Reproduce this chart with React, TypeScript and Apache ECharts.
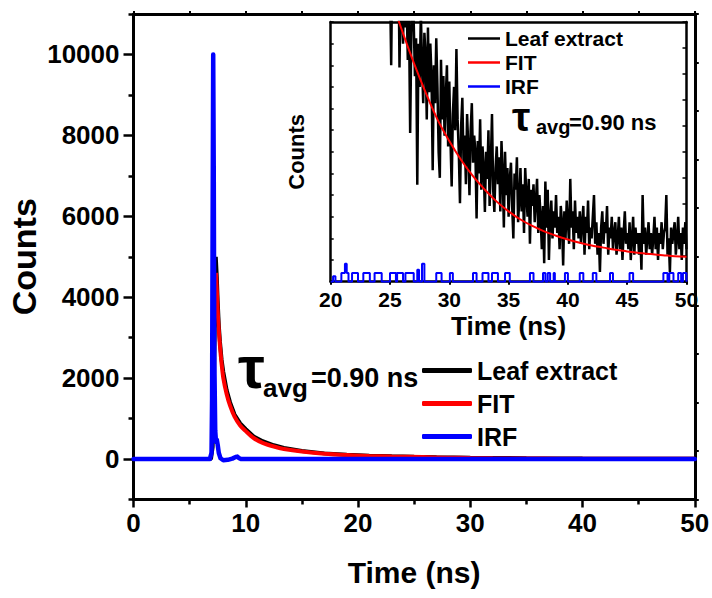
import React, { useEffect, useRef } from 'react';
import * as echarts from 'echarts';

// ---------- Main panel data ----------
const leafMainTime = [0, 6.9, 7.05, 7.2, 7.33, 7.42, 7.5, 7.6, 7.7, 7.85, 8.0, 8.3, 8.6, 9.0, 9.5, 10, 10.7, 11.5, 12.5, 13.4, 15, 17, 19, 21, 23, 25, 27, 30, 35, 40, 45, 50];
const leafMainCounts = [0, 0, 300, 2500, 5000, 4500, 3900, 3300, 2900, 2450, 2150, 1700, 1400, 1100, 880, 740, 560, 440, 340, 275, 200, 140, 105, 82, 66, 54, 44, 32, 19, 12, 9, 7];

const fitMainTime = [7.35, 7.45, 7.55, 7.7, 7.85, 8.0, 8.3, 8.6, 9.0, 9.5, 10, 10.7, 11.5, 12.5, 13.4, 15, 17, 19, 21, 23, 25.8, 28, 30, 32, 35, 38, 40, 45, 50];
const fitMainCounts = [4600, 4000, 3400, 2800, 2350, 2000, 1600, 1320, 1050, 830, 690, 520, 400, 310, 250, 185, 130, 98, 78, 64, 48, 34.5, 25.5, 19, 12.6, 8.9, 7.5, 5.6, 4.6];

const irfMainTime = [0, 6.8, 6.95, 7.0, 7.05, 7.1, 7.15, 7.2, 7.28, 7.35, 7.42, 7.5, 7.6, 7.75, 8.0, 8.4, 8.8, 9.1, 9.25, 9.4, 9.6, 50];
const irfMainCounts = [0, 0, 150, 1500, 6000, 10000, 7000, 2500, 700, 420, 480, 350, 150, 20, -30, -20, 10, 50, 60, 20, 0, 0];

const mainYTicks = [0, 2000, 4000, 6000, 8000, 10000];
const mainYMinorTicks = [-1000, 1000, 3000, 5000, 7000, 9000, 11000];

// ---------- Inset data (20 - 50 ns) ----------
const leafInsetStart = 24.0;
const leafInsetStep = 0.1;
const leafInsetCounts = [
  62, 57, 70, 54, 66, 59, 73, 56, 64, 58,
  55, 40, 61, 52, 49.5, 58, 50, 63, 39.6, 54,
  50, 44, 58, 47, 52, 41, 49, 27.5, 46, 53,
  48, 38, 45, 17.9, 44, 36, 50, 40, 33, 46,
  42, 30, 47, 35, 44, 38, 20.6, 40, 33, 45,
  36, 24, 19.2, 41, 30, 38, 27, 34, 40, 25,
  37, 26, 17.6, 31, 36, 28, 43, 30, 24, 14.5,
  29, 34, 22, 27, 18, 31, 25, 16, 28, 33,
  22, 27, 24, 11.7, 26, 20, 30, 17, 25, 21,
  12.9, 24, 19, 28, 14, 22, 31, 17, 12.9, 21,
  25, 18, 23, 13, 26, 20, 10, 24, 16, 21,
  12, 19, 22, 14, 8, 20, 17, 23, 11, 15,
  21, 13, 18, 9, 21, 16, 12, 19, 7, 17,
  14, 18, 11, 15, 19, 9, 16, 12, 6, 14,
  3.4, 18.5, 10, 17, 4, 12, 15, 8, 13, 10,
  16, 9, 12, 6, 14, 11, 3, 13, 8, 15,
  11, 7, 19, 10, 13, 6, 15, 9, 12, 8,
  13, 7, 11, 14, 5, 12, 9, 15, 6, 10,
  8, 12, 16, 7, 11, 5, 9, 1.8, 10, 13,
  7, 11, 9, 14, 5, 10, 8, 12, 6, 9,
  11, 5, 8, 12, 6, 10, 4, 9, 13, 7,
  9, 6, 11, 4, 8, 12, 5, 10, 7, 9,
  5, 9, 2.2, 16, 7, 10, 5, 8, 11, 6,
  9, 5, 8, 12, 6, 10, 4, 9, 7, 11,
  6, 9, 10, 16, 5, 8, 1.8, 10, 7, 9,
  11, 5, 8, 12, 6, 9, 4, 10, 7, 11,
  6,
];

const fitInsetTime = [24, 25, 26, 27, 28, 29, 30, 31, 32, 33, 34, 35, 36, 37, 38, 39, 40, 41, 42, 43, 44, 45, 46, 47, 48, 49, 50];
const fitInsetCounts = [60, 53, 46.5, 40.5, 35, 30, 26, 22.5, 19.5, 17, 14.8, 13, 11.5, 10.3, 9.3, 8.5, 7.8, 7.2, 6.7, 6.3, 5.9, 5.6, 5.3, 5.1, 4.9, 4.7, 4.6];

// IRF pulses in the inset (step trace): time where the level starts, and the level
const irfInsetTime = [20, 20.2, 20.4, 20.9, 21.2, 21.35, 21.5, 21.8, 22.3, 22.75, 23.3, 23.7, 24.3, 25.0, 25.5, 25.6, 26.1, 26.3, 27.0, 27.3, 27.45, 27.7, 27.9, 28.9, 29.35, 30.05, 30.3, 32.0, 32.3, 32.8, 33.3, 33.6, 34.1, 34.7, 35.1, 36.8, 37.1, 37.9, 38.1, 38.3, 38.5, 38.8, 38.9, 39.75, 40.0, 41.0, 41.3, 42.1, 42.4, 43.55, 43.8, 45.2, 45.5, 48.05, 48.4, 48.55, 48.9, 49.3, 49.55, 49.7, 50];
const irfInsetCounts = [0, 1.0, 0, 1.6, 3.3, 1.6, 0, 1.6, 0, 1.6, 0, 1.6, 0, 1.6, 0, 1.6, 0, 1.6, 0, 2.2, 0, 3.3, 0, 1.6, 0, 1.6, 0, 1.6, 0, 1.6, 0, 1.6, 0, 1.6, 0, 1.6, 0, 1.6, 0, 1.6, 0, 1.6, 0, 1.6, 0, 1.6, 0, 1.6, 0, 1.6, 0, 1.6, 0, 1.6, 0, 1.6, 0, 1.6, 0, 1.6, 0];

const seriesNames = ['Leaf extract', 'FIT', 'IRF'];
const seriesColors = ['#000000', '#ff0000', '#0000ff'];
const tauLabel = { symbol: 'τ', sub: 'avg', rest: '=0.90 ns' };

const SANS = "'Liberation Sans', Arial, Helvetica, sans-serif";

const zip = (xs: number[], ys: number[]) => xs.map((x, i) => [x, ys[i]]);

function buildOption() {
  const leafInsetData = leafInsetCounts.map((v, i) => [
    Math.round((leafInsetStart + i * leafInsetStep) * 100) / 100,
    v,
  ]);
  const black = '#000';
  const line = (w: number) => ({ show: true, onZero: false, lineStyle: { color: black, width: w } });
  const tick = (len: number, inside: boolean, w: number, customValues?: number[]) => ({
    show: true,
    inside,
    length: len,
    lineStyle: { color: black, width: w },
    ...(customValues ? { customValues } : {}),
  });
  const noSplit = { show: false };
  const plain = (v: number) => String(v);

  return {
    animation: false,
    backgroundColor: '#ffffff',
    grid: [
      { left: 133.5, top: 14, right: 17.2, bottom: 98.5, containLabel: false, outerBoundsMode: 'none' },
      { left: 330.7, top: 22, right: 25.5, bottom: 316.3, containLabel: false, outerBoundsMode: 'none' },
    ],
    xAxis: [
      {
        type: 'value', gridIndex: 0, position: 'bottom', min: 0, max: 50, interval: 10,
        axisLine: line(3), axisTick: tick(8, false, 2.5),
        minorTick: { show: true, splitNumber: 2, length: 5, lineStyle: { color: black, width: 2.5 } },
        axisLabel: { margin: 10, fontFamily: SANS, fontWeight: 'bold', fontSize: 26, color: black, formatter: plain },
        splitLine: noSplit, minorSplitLine: noSplit,
        name: 'Time (ns)', nameLocation: 'middle', nameGap: 58, nameMoveOverlap: false,
        nameTextStyle: { fontFamily: SANS, fontWeight: 'bold', fontSize: 30, color: black },
      },
      {
        type: 'value', gridIndex: 0, position: 'top', min: 0, max: 50, interval: 5,
        axisLine: line(3), axisTick: tick(3, false, 2), axisLabel: { show: false }, splitLine: noSplit,
      },
      {
        type: 'value', gridIndex: 1, position: 'bottom', min: 20, max: 50, interval: 5,
        axisLine: line(2.5), axisTick: tick(3, false, 2),
        axisLabel: { margin: 7, fontFamily: SANS, fontWeight: 'bold', fontSize: 21, color: black, formatter: plain },
        splitLine: noSplit,
        name: 'Time (ns)', nameLocation: 'middle', nameGap: 31, nameMoveOverlap: false,
        nameTextStyle: { fontFamily: SANS, fontWeight: 'bold', fontSize: 26, color: black },
      },
      {
        type: 'value', gridIndex: 1, position: 'top', min: 20, max: 50, interval: 5,
        axisLine: line(2.5), axisTick: { show: false }, axisLabel: { show: false }, splitLine: noSplit,
      },
    ],
    yAxis: [
      {
        type: 'value', gridIndex: 0, position: 'left', min: -1000, max: 11000,
        axisLine: line(3), axisTick: tick(10, false, 2.5, mainYTicks),
        axisLabel: { customValues: mainYTicks, margin: 14, fontFamily: SANS, fontWeight: 'bold', fontSize: 26, color: black, formatter: plain },
        splitLine: noSplit,
        name: 'Counts', nameLocation: 'middle', nameGap: 93, nameMoveOverlap: false,
        nameTextStyle: { fontFamily: SANS, fontWeight: 'bold', fontSize: 34, color: black },
      },
      {
        type: 'value', gridIndex: 0, position: 'left', min: -1000, max: 11000,
        axisLine: { show: false }, axisTick: tick(5, false, 2.5, mainYMinorTicks),
        axisLabel: { show: false }, splitLine: noSplit,
      },
      {
        type: 'value', gridIndex: 0, position: 'right', min: 0, max: 10, interval: 1,
        axisLine: line(3), axisTick: tick(4, false, 2), axisLabel: { show: false }, splitLine: noSplit,
      },
      {
        type: 'value', gridIndex: 1, position: 'left', min: 0, max: 48, interval: 4,
        axisLine: line(2.5), axisTick: tick(3, true, 1.5), axisLabel: { show: false }, splitLine: noSplit,
        name: 'Counts', nameLocation: 'middle', nameGap: 23, nameMoveOverlap: false,
        nameTextStyle: { fontFamily: SANS, fontWeight: 'bold', fontSize: 22, color: black },
      },
      {
        type: 'value', gridIndex: 1, position: 'right', min: 0, max: 10, interval: 1,
        axisLine: line(2.5), axisTick: tick(4, true, 1.5), axisLabel: { show: false }, splitLine: noSplit,
      },
    ],
    legend: [
      {
        data: seriesNames, orient: 'vertical', left: 422, top: 358, padding: 0,
        itemWidth: 50, itemHeight: 5, itemGap: 8, icon: 'roundRect', selectedMode: false,
        itemStyle: { borderWidth: 0 },
        textStyle: { fontFamily: SANS, fontWeight: 'bold', fontSize: 25, color: black },
      },
      {
        data: seriesNames, orient: 'vertical', left: 468, top: 28, padding: 0,
        itemWidth: 32, itemHeight: 2.5, itemGap: 3, icon: 'rect', selectedMode: false,
        itemStyle: { borderWidth: 0 },
        textStyle: { fontFamily: SANS, fontWeight: 'bold', fontSize: 21, color: black },
      },
    ],
    graphic: [
      { type: 'text', x: 238, y: 367.3, style: { text: tauLabel.symbol, font: `bold 60px ${SANS}`, fill: black, verticalAlign: 'middle' } },
      { type: 'text', x: 263, y: 388, style: { text: tauLabel.sub, font: `bold 26px ${SANS}`, fill: black, verticalAlign: 'middle' } },
      { type: 'text', x: 311, y: 377.6, style: { text: tauLabel.rest, font: `bold 27px ${SANS}`, fill: black, verticalAlign: 'middle' } },
      { type: 'text', x: 512, y: 116.8, style: { text: tauLabel.symbol, font: `bold 41px ${SANS}`, fill: black, verticalAlign: 'middle' } },
      { type: 'text', x: 536, y: 126.6, style: { text: tauLabel.sub, font: `bold 20px ${SANS}`, fill: black, verticalAlign: 'middle' } },
      { type: 'text', x: 569, y: 122.4, style: { text: tauLabel.rest, font: `bold 22px ${SANS}`, fill: black, verticalAlign: 'middle' } },
    ],
    series: [
      {
        type: 'line', name: seriesNames[0], xAxisIndex: 0, yAxisIndex: 0, symbol: 'none',
        data: zip(leafMainTime, leafMainCounts),
        itemStyle: { color: seriesColors[0] }, lineStyle: { color: seriesColors[0], width: 4 }, z: 2,
      },
      {
        type: 'line', name: seriesNames[1], xAxisIndex: 0, yAxisIndex: 0, symbol: 'none', smooth: 0.3,
        data: zip(fitMainTime, fitMainCounts),
        itemStyle: { color: seriesColors[1] }, lineStyle: { color: seriesColors[1], width: 4 }, z: 3,
      },
      {
        type: 'line', name: seriesNames[2], xAxisIndex: 0, yAxisIndex: 0, symbol: 'none',
        data: zip(irfMainTime, irfMainCounts),
        itemStyle: { color: seriesColors[2] }, lineStyle: { color: seriesColors[2], width: 4.5, cap: 'round', join: 'round' }, z: 4,
      },
      {
        type: 'line', name: seriesNames[0], xAxisIndex: 2, yAxisIndex: 3, symbol: 'none',
        data: leafInsetData,
        itemStyle: { color: seriesColors[0] }, lineStyle: { color: seriesColors[0], width: 2.5 }, z: 5,
      },
      {
        type: 'line', name: seriesNames[1], xAxisIndex: 2, yAxisIndex: 3, symbol: 'none', smooth: 0.4,
        data: zip(fitInsetTime, fitInsetCounts),
        itemStyle: { color: seriesColors[1] }, lineStyle: { color: seriesColors[1], width: 2 }, z: 6,
      },
      {
        type: 'line', name: seriesNames[2], xAxisIndex: 2, yAxisIndex: 3, symbol: 'none', step: 'end',
        data: zip(irfInsetTime, irfInsetCounts),
        itemStyle: { color: seriesColors[2] }, lineStyle: { color: seriesColors[2], width: 2 }, z: 7,
      },
    ],
  };
}

export default function App() {
  const ref = useRef<HTMLDivElement>(null);
  useEffect(() => {
    if (!ref.current) return;
    const chart = echarts.init(ref.current, null, { renderer: 'svg' });
    chart.setOption(buildOption() as any);
    return () => chart.dispose();
  }, []);
  return (
    <div
      ref={ref}
      style={{ position: 'fixed', left: 0, top: 0, width: 712, height: 598, background: '#fff' }}
    />
  );
}
